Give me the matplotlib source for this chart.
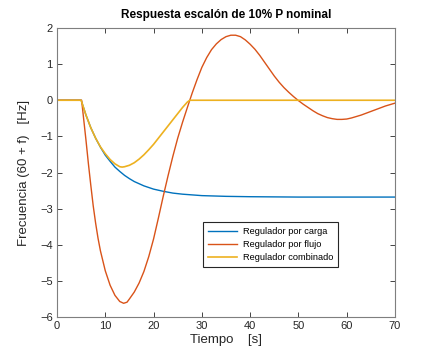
import matplotlib
matplotlib.use('Agg')
import matplotlib.pyplot as plt

# DATA ------------------------------------------------------------------------

t_carga = [0, 5, 6, 7, 8, 9, 10, 11, 12, 13, 14, 15, 16, 18, 20, 22, 24, 26,
           28, 30, 35, 40, 50, 70]
f_carga = [0, 0, -0.41, -0.76, -1.05, -1.30, -1.52, -1.69, -1.85, -1.97, -2.08,
           -2.17, -2.25, -2.37, -2.46, -2.52, -2.57, -2.60, -2.62, -2.64, -2.66,
           -2.67, -2.68, -2.68]

t_flujo = [0, 5.1, 6, 6.5, 7, 7.5, 8, 8.5, 9, 10, 11, 12, 13, 13.8, 14.5, 15,
           16, 17, 18, 19, 20, 21, 22, 23, 24, 25, 26, 27, 28, 29, 30, 31, 32,
           33, 34, 35, 36, 37, 38, 39, 40, 41, 42, 43, 44, 45, 46, 47, 48, 49,
           50, 51, 52, 53, 54, 55, 56, 57, 58, 59, 60, 61, 62, 63, 64, 65, 66,
           67, 68, 69, 70]
f_flujo = [0, 0, -1.10, -1.75, -2.35, -2.92, -3.40, -3.82, -4.17, -4.72, -5.12,
           -5.40, -5.57, -5.62, -5.59, -5.50, -5.31, -5.06, -4.74, -4.33, -3.84,
           -3.26, -2.66, -2.09, -1.55, -1.05, -0.61, -0.20, 0.20, 0.57, 0.91,
           1.18, 1.40, 1.56, 1.68, 1.76, 1.80, 1.80, 1.76, 1.67, 1.55, 1.41,
           1.24, 1.05, 0.86, 0.67, 0.50, 0.35, 0.22, 0.10, -0.01, -0.11, -0.20,
           -0.29, -0.37, -0.43, -0.48, -0.51, -0.53, -0.53, -0.52, -0.49, -0.45,
           -0.41, -0.36, -0.31, -0.26, -0.21, -0.16, -0.12, -0.08]

t_comb = [0, 5, 6, 7, 8, 9, 10, 11, 12, 13, 13.5, 14, 15, 16, 17, 18, 19, 20,
          21, 22, 23, 24, 25, 26, 27, 27.5, 70]
f_comb = [0, 0, -0.41, -0.76, -1.05, -1.29, -1.48, -1.64, -1.76, -1.84, -1.85,
          -1.84, -1.80, -1.73, -1.63, -1.51, -1.37, -1.22, -1.05, -0.88, -0.71,
          -0.54, -0.37, -0.20, -0.05, 0, 0]

labels = ['Regulador por carga', 'Regulador por flujo', 'Regulador combinado']
colors = ['#0072BD', '#D95319', '#EDB120']

xticks = [0, 10, 20, 30, 40, 50, 60, 70]
yticks = [-6, -5, -4, -3, -2, -1, 0, 1, 2]

# PLOT ------------------------------------------------------------------------

plt.rcParams['font.family'] = ['Liberation Sans', 'DejaVu Sans']
axcol = '#262626'

fig = plt.figure(figsize=(4.37, 3.57), dpi=100)
ax = fig.add_axes([0.1304, 0.1120, 0.7735, 0.8096])

ax.plot(t_carga, f_carga, color=colors[0], lw=1.0, label=labels[0])
ax.plot(t_flujo, f_flujo, color=colors[1], lw=1.0, label=labels[1])
ax.plot(t_comb, f_comb, color=colors[2], lw=1.2, label=labels[2])

ax.set_xlim(0, 70)
ax.set_ylim(-6, 2)
ax.set_xticks(xticks)
ax.set_yticks(yticks)
ax.tick_params(direction='in', top=True, right=True, length=3.5, width=0.6,
               colors=axcol, labelsize=8, pad=3)
for sp in ax.spines.values():
    sp.set_color('#7f7f7f')
    sp.set_linewidth(0.8)

ax.set_title('Respuesta escalón de 10% P nominal', fontsize=8.5,
             fontweight='bold', color='black', pad=7)
ax.set_xlabel('Tiempo    [s]', fontsize=9.5, color=axcol, labelpad=2)
ax.set_ylabel('Frecuencia (60 + f)   [Hz]', fontsize=9.5, color=axcol,
              labelpad=7)

leg = ax.legend(loc='lower left', bbox_to_anchor=(0.432, 0.173),
                borderaxespad=0, fontsize=6.7, fancybox=False, framealpha=1,
                edgecolor='#262626', handlelength=3.2, handletextpad=0.6,
                labelspacing=0.45, borderpad=0.5)
leg.get_frame().set_linewidth(0.8)

fig.savefig('out.png', dpi=100)
